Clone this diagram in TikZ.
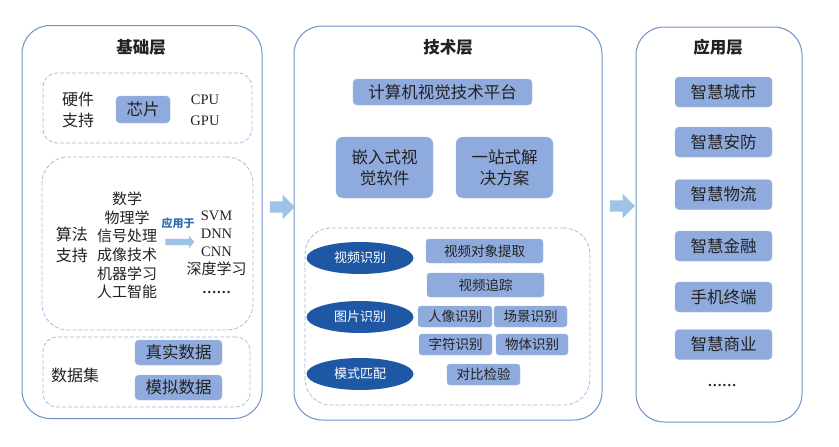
\documentclass[tikz,border=0pt]{standalone}
\usepackage{fontspec}
\setmainfont{Noto Sans CJK SC}
\newfontfamily\lat{Liberation Serif}
\usetikzlibrary{shapes.geometric,shapes.arrows}
\definecolor{panelc}{HTML}{6A93C8}
\definecolor{dashc}{HTML}{A4BCE0}
\definecolor{boxc}{HTML}{8FAADC}
\definecolor{ellc}{HTML}{1E58A5}
\definecolor{arrc}{HTML}{9DC3E6}
\definecolor{txtc}{HTML}{222222}
\definecolor{bluetxt}{HTML}{2E6DB5}
\newcommand{\fs}[2]{\fontsize{#1}{#2}\selectfont}
\tikzset{
  panel/.style={draw=panelc, line width=1pt, rounded corners=28pt, inner sep=0pt},
  dashbox/.style={draw=dashc, dashed, dash pattern=on 4pt off 2pt, line width=0.8pt, rounded corners=14pt, inner sep=0pt},
  bbox/.style={fill=boxc, draw=boxc!85!white, rounded corners=4pt, inner sep=0pt, text=txtc, font=\fs{16.5}{21}, align=center},
  sbox/.style={fill=boxc, draw=boxc!85!white, rounded corners=3pt, inner sep=0pt, text=txtc, font=\fs{13.5}{16}},
  ell/.style={ellipse, fill=ellc, text=white, inner sep=0pt, minimum width=107pt, minimum height=32pt, font=\fs{13}{15}},
  title/.style={text=txtc, font=\fs{16.5}{20}\bfseries},
  lbl/.style={text=txtc, font=\fs{16}{21}, align=center},
  bigarrow/.style={single arrow, fill=arrc, draw=none, minimum height=25pt, inner xsep=0pt, inner ysep=5.5pt, single arrow head extend=6.5pt},
  smallarrow/.style={single arrow, fill=arrc, draw=none, minimum height=29pt, inner xsep=0pt, inner ysep=3pt, single arrow head extend=3pt, single arrow tip angle=100},
}
\begin{document}
\begin{tikzpicture}[x=1pt,y=-1pt]
\useasboundingbox (0,0) rectangle (839,447);
% panels
\node[panel, minimum width=240pt, minimum height=393pt] (L) at (142,222) {};
\node[panel, minimum width=308pt, minimum height=394pt] (M) at (448,223) {};
\node[panel, minimum width=166pt, minimum height=395pt] (R) at (719,224.5) {};
\node[title] (Lt) at (141,47) {基础层};
\node[title] (Mt) at (448,47) {技术层};
\node[title] (Rt) at (718,47) {应用层};
% big arrows
\node[bigarrow] (a1) at (279.5,207) {};
\node[bigarrow] (a2) at (619.5,206) {};
% left: hardware
\node[dashbox, minimum width=209pt, minimum height=70pt] (hw) at (147.5,108) {};
\node[lbl] (hwl) at (78,110) {硬件\\支持};
\node[bbox, minimum width=54pt, minimum height=27pt] (chip) at (143,109.5) {芯片};
\node[text=txtc, font=\lat\fs{14.5}{20.5}, align=center] (cpu) at (205,110.5) {CPU\\GPU};
% left: algorithms
\node[dashbox, rounded corners=26pt, minimum width=211pt, minimum height=173pt] (alg) at (147.5,243.5) {};
\node[lbl] (algl) at (72,245) {算法\\支持};
\node[text=txtc, font=\fs{15}{18.6}, align=center] (col) at (127,245.5) {数学\\物理学\\信号处理\\成像技术\\机器学习\\人工智能};
\node[text=bluetxt, font=\fs{11}{13}\bfseries] (yy) at (178,223) {应用于};
\node[smallarrow] (sa) at (178.5,242) {};
\node[text=txtc, font=\lat\fs{14.5}{18.2}, align=center] (models) at (216.5,252) {SVM\\DNN\\CNN\\{\fontspec{Noto Sans CJK SC}\fs{15}{18.2}深度学习}\\\textbf{……}};
% left: dataset
\node[dashbox, minimum width=207pt, minimum height=70pt] (ds) at (146.5,372) {};
\node[lbl] (dsl) at (75,375) {数据集};
\node[bbox, minimum width=87pt, minimum height=25pt] (real) at (178.5,352.5) {真实数据};
\node[bbox, minimum width=87pt, minimum height=25pt] (sim) at (178.5,387.5) {模拟数据};
% middle
\node[bbox, minimum width=179pt, minimum height=26pt] (plat) at (442.5,92) {计算机视觉技术平台};
\node[bbox, minimum width=97pt, minimum height=61pt, rounded corners=7pt] (emb) at (384.5,167.5) {嵌入式视\\觉软件};
\node[bbox, minimum width=97pt, minimum height=61pt, rounded corners=7pt] (one) at (504.5,167.5) {一站式解\\决方案};
\node[dashbox, rounded corners=26pt, minimum width=285pt, minimum height=177pt] (rec) at (447.5,316.5) {};
\node[ell] (e1) at (360,258) {视频识别};
\node[ell] (e2) at (360,317) {图片识别};
\node[ell] (e3) at (360,374) {模式匹配};
\node[sbox, minimum width=117pt, minimum height=24pt] (b1) at (484.5,251) {视频对象提取};
\node[sbox, minimum width=117pt, minimum height=24pt] (b2) at (485.5,285) {视频追踪};
\node[sbox, minimum width=74pt, minimum height=21pt] (b3) at (455,316.5) {人像识别};
\node[sbox, minimum width=73pt, minimum height=21pt] (b4) at (530.5,316.5) {场景识别};
\node[sbox, minimum width=73pt, minimum height=21pt] (b5) at (455.5,344.5) {字符识别};
\node[sbox, minimum width=72pt, minimum height=21pt] (b6) at (532,344.5) {物体识别};
\node[sbox, minimum width=73pt, minimum height=21pt] (b7) at (483.5,374.5) {对比检验};
% right
\node[bbox, minimum width=97pt, minimum height=30pt] (r1) at (723.5,92) {智慧城市};
\node[bbox, minimum width=97pt, minimum height=30pt] (r2) at (723.5,142) {智慧安防};
\node[bbox, minimum width=97pt, minimum height=30pt] (r3) at (723.5,194.5) {智慧物流};
\node[bbox, minimum width=97pt, minimum height=30pt] (r4) at (723.5,246) {智慧金融};
\node[bbox, minimum width=97pt, minimum height=30pt] (r5) at (723.5,297) {手机终端};
\node[bbox, minimum width=97pt, minimum height=30pt] (r6) at (723.5,344.5) {智慧商业};
\node[text=txtc, font=\lat\bfseries\fs{14.5}{18}] (rdots) at (722,386) {……};
\end{tikzpicture}
\end{document}
